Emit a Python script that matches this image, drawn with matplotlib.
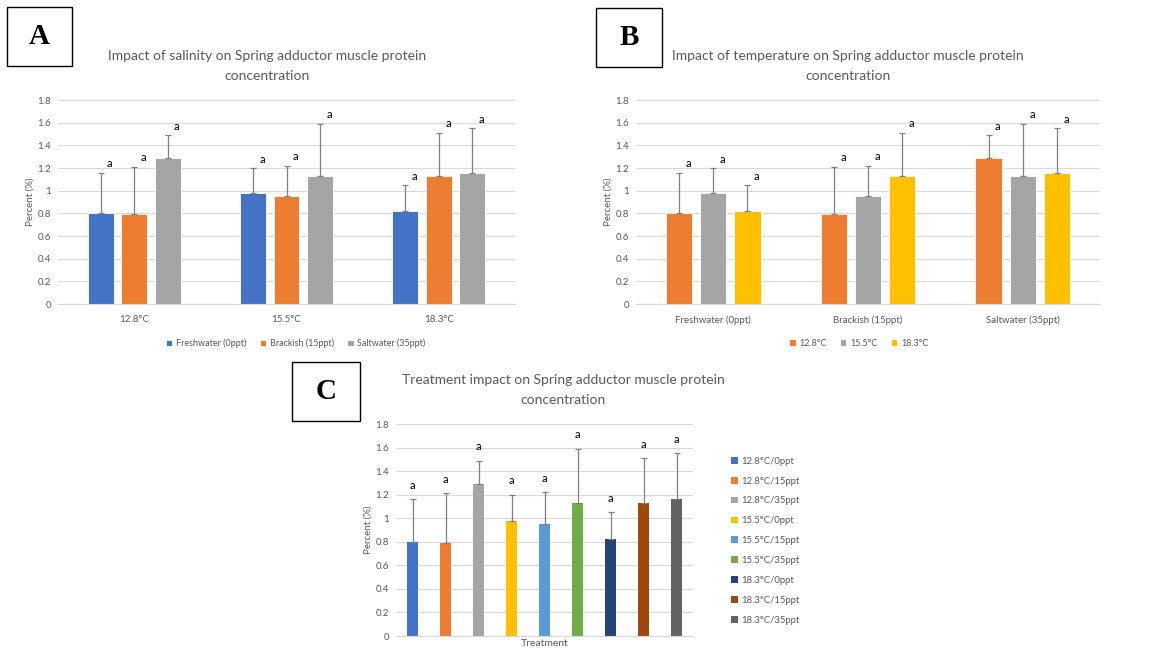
import numpy as np
from matplotlib import pyplot as plt
from matplotlib.patches import Rectangle

plt.rcParams['font.family'] = ['Lato', 'DejaVu Sans']

# 数据
temps = ['12.8°C', '15.5°C', '18.3°C']
salts = ['Freshwater (0ppt)', 'Brackish (15ppt)', 'Saltwater (35ppt)']
# 行：温度，列：盐度
means = np.array([[0.80, 0.79, 1.29],
                  [0.98, 0.95, 1.13],
                  [0.82, 1.13, 1.16]])
errs = np.array([[0.36, 0.42, 0.20],
                 [0.22, 0.27, 0.46],
                 [0.23, 0.38, 0.39]])
letters = ['a'] * 9
c_labels = ['12.8°C/0ppt', '12.8°C/15ppt', '12.8°C/35ppt',
            '15.5°C/0ppt', '15.5°C/15ppt', '15.5°C/35ppt',
            '18.3°C/0ppt', '18.3°C/15ppt', '18.3°C/35ppt']
c_colors = ['#4472C4', '#ED7D31', '#A5A5A5', '#FFC000', '#5B9BD5',
            '#70AD47', '#264478', '#9E480E', '#636363']
yticks = [0, 0.2, 0.4, 0.6, 0.8, 1, 1.2, 1.4, 1.6, 1.8]
ytick_labels = ['0', '0.2', '0.4', '0.6', '0.8', '1', '1.2', '1.4', '1.6', '1.8']

W, H = 1149, 651
fig = plt.figure(figsize=(W / 100, H / 100), dpi=100)
TXT = '#595959'
GRID = '#D9D9D9'


def px_axes(l, t, r, b):
    return fig.add_axes([l / W, 1 - b / H, (r - l) / W, (b - t) / H])


def style(ax):
    ax.set_ylim(0, 1.8)
    ax.set_yticks(yticks)
    ax.set_yticklabels(ytick_labels)
    ax.grid(axis='y', color=GRID, linewidth=0.8)
    ax.set_axisbelow(True)
    for s in ['top', 'right', 'left']:
        ax.spines[s].set_visible(False)
    ax.spines['bottom'].set_color(GRID)
    ax.tick_params(axis='y', length=0, labelsize=7, labelcolor=TXT, pad=5)
    ax.tick_params(axis='x', length=0, labelsize=7, labelcolor=TXT, pad=8)
    ax.set_ylabel('Percent (%)', fontsize=7, color=TXT, labelpad=2)


def box(l, t, r, b, letter):
    fig.patches.append(Rectangle((l / W, 1 - b / H), (r - l) / W, (b - t) / H,
                                 transform=fig.transFigure, fill=False,
                                 edgecolor='k', linewidth=1.0))
    fig.text((l + r) / 2 / W, 1 - (t + b) / 2 / H, letter, ha='center', va='center',
             fontsize=21, fontweight='bold', family='Liberation Serif')


def grouped(ax, vals, ers, colors, names, cats):
    x = np.arange(3)
    w = 0.17
    off = 0.22
    for i in range(3):
        xs = x + (i - 1) * off
        ax.bar(xs, vals[:, i], w, color=colors[i], edgecolor='white',
               linewidth=0.6, label=names[i])
        ax.errorbar(xs, vals[:, i], yerr=[np.zeros(3), ers[:, i]], fmt='none',
                    ecolor='#808080', elinewidth=0.9, capsize=2.5, capthick=0.9)
        for j in range(3):
            ax.text(xs[j] + 0.06, vals[j, i] + ers[j, i] + 0.03, 'a',
                    ha='center', va='bottom', fontsize=8, color='k')
    ax.set_xticks(x)
    ax.set_xticklabels(cats)
    ax.set_xlim(-0.5, 2.5)


TITLE_KW = dict(ha='center', va='center', fontsize=10, color=TXT, linespacing=1.8)

# A
axA = px_axes(58, 100, 515, 304)
grouped(axA, means, errs, ['#4472C4', '#ED7D31', '#A5A5A5'], salts, temps)
style(axA)
axA.legend(loc='upper center', bbox_to_anchor=(0.52, -0.13), ncol=3, frameon=False,
           fontsize=6.5, labelcolor=TXT, handlelength=0.7, handleheight=0.7,
           handletextpad=0.4, columnspacing=1.5)
fig.text(267 / W, 1 - 65.5 / H,
         'Impact of salinity on Spring adductor muscle protein\nconcentration', **TITLE_KW)
box(7, 7, 72, 66, 'A')

# B
axB = px_axes(636, 100, 1100, 304)
grouped(axB, means.T, errs.T, ['#ED7D31', '#A5A5A5', '#FFC000'], temps, salts)
style(axB)
axB.legend(loc='upper center', bbox_to_anchor=(0.48, -0.13), ncol=3, frameon=False,
           fontsize=6.5, labelcolor=TXT, handlelength=0.7, handleheight=0.7,
           handletextpad=0.4, columnspacing=1.5)
fig.text(848 / W, 1 - 65.5 / H,
         'Impact of temperature on Spring adductor muscle protein\nconcentration', **TITLE_KW)
box(596, 8, 662, 67, 'B')

# C
axC = px_axes(396, 424, 693, 636)
vals_c = means.flatten()
errs_c = errs.flatten()
xc = np.arange(9)
for k in range(9):
    axC.bar(xc[k], vals_c[k], 0.34, color=c_colors[k], label=c_labels[k])
axC.errorbar(xc, vals_c, yerr=[np.zeros(9), errs_c], fmt='none', ecolor='#808080',
             elinewidth=0.9, capsize=2.5, capthick=0.9)
for k in range(9):
    axC.text(xc[k], vals_c[k] + errs_c[k] + 0.07, letters[k], ha='center',
             va='bottom', fontsize=8, color='k')
axC.set_xlim(-0.5, 8.5)
axC.set_xticks([])
style(axC)
axC.set_xlabel('Treatment', fontsize=7.5, color=TXT, labelpad=2)
axC.legend(loc='center left', bbox_to_anchor=(1.1, 0.45), frameon=False, fontsize=6.8,
           labelcolor=TXT, handlelength=0.7, handleheight=0.7, handletextpad=0.4,
           labelspacing=1.15)
fig.text(563 / W, 1 - 389.5 / H,
         'Treatment impact on Spring adductor muscle protein\nconcentration', **TITLE_KW)
box(292, 362, 360, 421, 'C')

plt.savefig('out.png', dpi=100)
